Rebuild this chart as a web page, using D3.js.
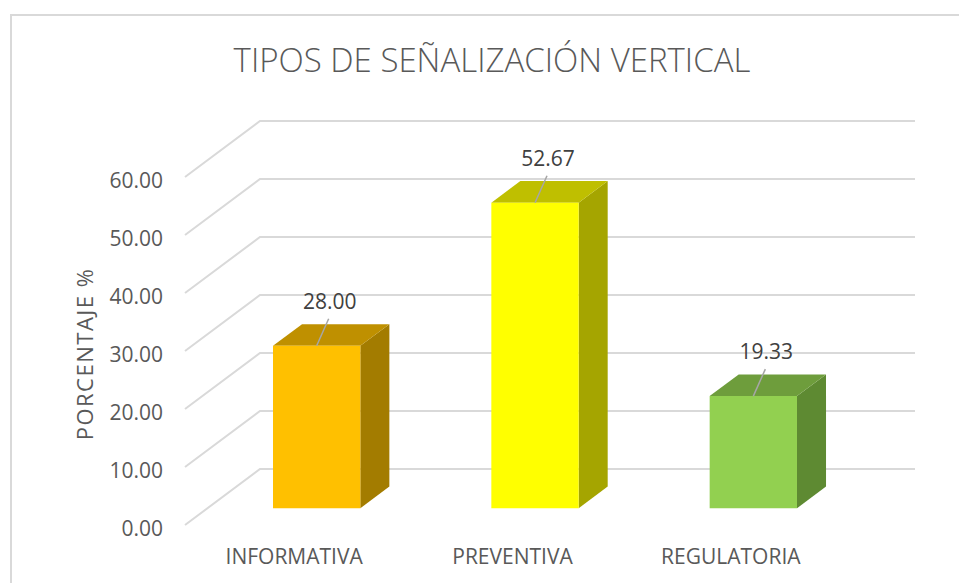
<!DOCTYPE html>
<html>
<head>
<meta charset="utf-8">
<script src="https://cdn.jsdelivr.net/npm/d3@7"></script>
<style>
  html, body { margin: 0; padding: 0; background: #fff; }
  svg { display: block; font-family: "Open Sans", "Noto Sans", sans-serif; }
</style>
</head>
<body>
<svg id="chart" width="959" height="583"></svg>
<script>
// Chart data
const categories = ["INFORMATIVA", "PREVENTIVA", "REGULATORIA"];
const values = [28.00, 52.67, 19.33];
const yTicks = [0, 10, 20, 30, 40, 50, 60];
const titleText = "TIPOS DE SEÑALIZACIÓN VERTICAL";
const yTitleText = "PORCENTAJE %";

// Face colours per bar: front, top, side
const frontColors = ["#FFC000", "#FFFF00", "#92D050"];
const topColors   = ["#BF9000", "#BFBF00", "#6E9D3C"];
const sideColors  = ["#A37C00", "#A5A500", "#5E8A32"];

const svg = d3.select("#chart");

// Oblique projection for the 3D plot box
const DX = 75, DY = 56;          // depth offset of the back wall
const x = d3.scaleBand().domain(categories).range([185, 840]).paddingInner(0).paddingOuter(0);
const y = d3.scaleLinear().domain([0, 60]).range([525, 177]);
const proj = (xw, v, z) => [xw + z * DX, y(v) - z * DY];

// Outer chart border (left and top)
svg.append("path")
  .attr("d", "M11,583 L11,15 L959,15")
  .attr("fill", "none")
  .attr("stroke", "#d9d9d9")
  .attr("stroke-width", 2);

// Title
svg.append("text")
  .attr("x", 492).attr("y", 72)
  .attr("text-anchor", "middle")
  .attr("font-size", 33).attr("font-weight", 300)
  .attr("fill", "#595959")
  .text(titleText);

// Gridlines: side wall diagonal, then along the back wall
const xl = x.range()[0], xr = x.range()[1];
svg.append("g").selectAll("path").data(yTicks).join("path")
  .attr("d", t => {
    const a = proj(xl, t, 0), b = proj(xl, t, 1), c = proj(xr, t, 1);
    return `M${a[0]},${a[1]} L${b[0]},${b[1]} L${c[0]},${c[1]}`;
  })
  .attr("fill", "none")
  .attr("stroke", "#d9d9d9")
  .attr("stroke-width", 2);

// Y tick labels
svg.append("g").selectAll("text").data(yTicks).join("text")
  .attr("x", 163)
  .attr("y", t => y(t) + 11)
  .attr("text-anchor", "end")
  .attr("font-size", 21)
  .attr("fill", "#595959")
  .text(t => d3.format(".2f")(t));

// Y axis title
svg.append("text")
  .attr("transform", "translate(93,354) rotate(-90)")
  .attr("text-anchor", "middle")
  .attr("font-size", 22)
  .attr("letter-spacing", 1.5)
  .attr("fill", "#595959")
  .text(yTitleText);

// Bars (front, top and right-side faces)
const z0 = 0.3, z1 = 0.687, barFrac = 0.4;
const bars = categories.map((c, i) => {
  const bw = x.bandwidth() * barFrac;
  const x0 = x(c) + (x.bandwidth() - bw) / 2;
  return { c, v: values[i], i, x0, x1: x0 + bw };
});

const pts = arr => arr.map(p => p.join(",")).join(" ");
const gBars = svg.append("g");
bars.forEach(b => {
  const g = gBars.append("g");
  // right side face
  g.append("polygon")
    .attr("points", pts([proj(b.x1, 0, z0), proj(b.x1, 0, z1), proj(b.x1, b.v, z1), proj(b.x1, b.v, z0)]))
    .attr("fill", sideColors[b.i]);
  // top face
  g.append("polygon")
    .attr("points", pts([proj(b.x0, b.v, z0), proj(b.x1, b.v, z0), proj(b.x1, b.v, z1), proj(b.x0, b.v, z1)]))
    .attr("fill", topColors[b.i]);
  // front face
  g.append("polygon")
    .attr("points", pts([proj(b.x0, 0, z0), proj(b.x1, 0, z0), proj(b.x1, b.v, z0), proj(b.x0, b.v, z0)]))
    .attr("fill", frontColors[b.i]);
});

// Data labels with leader lines
bars.forEach(b => {
  const top = proj((b.x0 + b.x1) / 2, b.v, z0);
  svg.append("line")
    .attr("x1", top[0]).attr("y1", top[1])
    .attr("x2", top[0] + 12).attr("y2", top[1] - 27)
    .attr("stroke", "#a6a6a6").attr("stroke-width", 1.5);
  svg.append("text")
    .attr("x", top[0] + 13).attr("y", top[1] - 37)
    .attr("text-anchor", "middle")
    .attr("font-size", 21)
    .attr("fill", "#404040")
    .text(d3.format(".2f")(b.v));
});

// Category labels
svg.append("g").selectAll("text").data(categories).join("text")
  .attr("x", c => x(c) + x.bandwidth() / 2)
  .attr("y", 564)
  .attr("text-anchor", "middle")
  .attr("font-size", 21)
  .attr("fill", "#595959")
  .text(c => c);
</script>
</body>
</html>
